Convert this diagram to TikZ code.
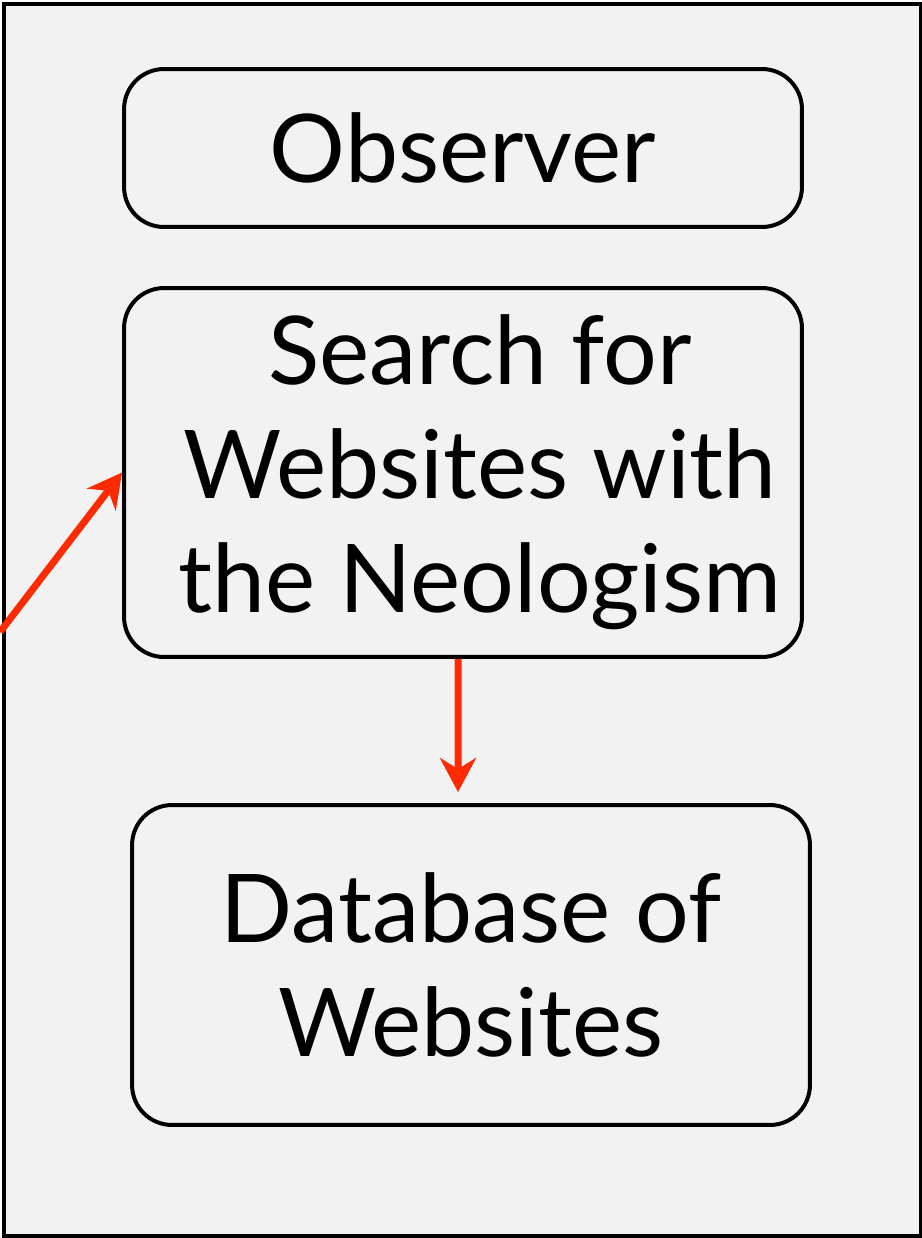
\documentclass[tikz,border=0pt]{standalone}
\usepackage{fontspec}
\setmainfont{Lato}
\usetikzlibrary{arrows.meta,positioning}
\definecolor{C1}{HTML}{FF2A00}
\definecolor{bg}{HTML}{F2F2F2}

\begin{document}
\begin{tikzpicture}[x=0.02cm, y=-0.02cm,
    stage/.style = {draw, rounded corners=0.8cm, line width=.08cm, minimum width=13.56cm,
                    align=center, font=\fontsize{54}{65}\selectfont},
    flow/.style = {-{Stealth[length=0.68cm, width=0.72cm, inset=0.22cm]}, line width=.14cm, C1}]
    \useasboundingbox (0,0) rectangle (922,1238);
    \draw [fill=bg, line width=.08cm] (4,4) rectangle (921,1236);
        \node [stage, minimum height=3.16cm] (observer) at (463,148) {Observer};
        \node [stage, minimum height=7.38cm] (search) at (463,472.5) {};
        \node [align=center, font=\fontsize{54}{65}\selectfont] (searchtext) at (480,472.5) {Search for\\Websites with\\the Neologism};
        \node [stage, minimum height=6.4cm] (database) at (471,965) {Database of\\Websites};
        \coordinate (outside) at (0,632);
        \draw [flow] (outside) -- (search.west);
        \draw [flow] ([xshift=-0.1cm]search.south) -- ([xshift=-0.26cm, yshift=0.22cm]database.north);
    \end{tikzpicture}
\end{document}
